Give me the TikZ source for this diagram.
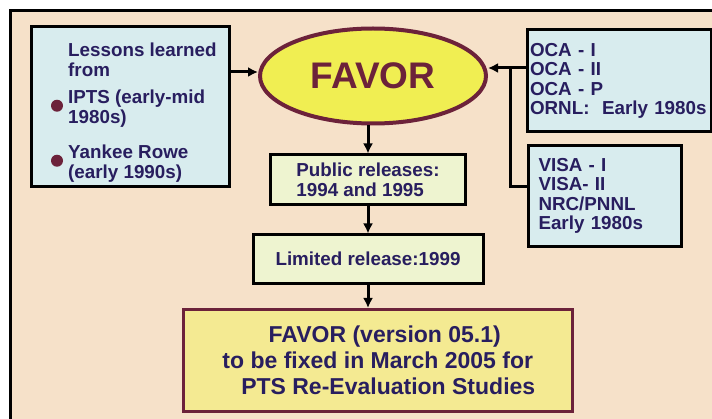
\documentclass[tikz,border=0pt]{standalone}
\usepackage{fontspec}
\setmainfont{Liberation Sans}
\usepackage{tikz}
\usetikzlibrary{shapes,arrows.meta}
\usetikzlibrary{positioning}
\definecolor{sand}{RGB}{246,225,201}
\definecolor{paleblue}{RGB}{216,236,238}
\definecolor{palegreen}{RGB}{238,244,208}
\definecolor{lemon}{RGB}{240,238,82}
\definecolor{straw}{RGB}{244,234,146}
\definecolor{wine}{RGB}{108,34,58}
\definecolor{inkblue}{RGB}{40,30,95}
\newcommand{\favorbody}{\bfseries\fontsize{18.8}{19.5}\selectfont}
\tikzset{source box/.style={draw=black, line width=3pt, fill=paleblue, rectangle, align=left, text=inkblue, font=\favorbody}}
\tikzset{release box/.style={draw=black, line width=3pt, fill=palegreen, rectangle, align=left, text=inkblue, font=\favorbody}}
\tikzset{plain text/.style={inner sep=0pt, align=left, text=inkblue, font=\favorbody}}
\tikzset{link/.style={line width=3pt, -{Latex[length=10pt,width=10pt]}}}

\begin{document}
\begin{tikzpicture}[x=1pt, y=-1pt]
\useasboundingbox (0,0) rectangle (712,419);
\draw[line width=3pt, fill=sand] (10.5,10.5) rectangle (716,423);

\node[source box, minimum width=198pt, minimum height=160pt] (lessonsbox) at (130.5,106.5) {};
\node[plain text, anchor=north west] (lessons) at (68,43) {Lessons learned\\from};
\node[plain text, anchor=north west] (ipts) at (68,90) {IPTS (early-mid\\1980s)};
\node[plain text, anchor=north west] (yankee) at (68,145) {Yankee Rowe\\(early 1990s)};
\fill[wine] ([xshift=-11pt,yshift=3pt]ipts.west) circle (6pt);
\fill[wine] ([xshift=-11pt,yshift=3pt]yankee.west) circle (6pt);

\node[draw=wine, line width=4pt, fill=lemon, ellipse, minimum width=226pt, minimum height=95pt, inner sep=0pt, text=wine, font=\bfseries\fontsize{37}{40}\selectfont] (favor) at (373,76) {FAVOR};

\node[source box, text width=178pt, inner xsep=3pt, minimum height=102pt] (oca) at (619,81) {OCA - I\\OCA - II\\OCA - P\\\mbox{ORNL:\ \ Early 1980s}};
\node[source box, text width=133pt, inner xsep=10pt, minimum height=101pt, below=10.5pt of oca.south west, anchor=north west, xshift=1.5pt] (visa) {VISA - I\\VISA- II\\NRC/PNNL\\Early 1980s};

\node[release box, minimum width=195pt, minimum height=50pt] (public) at (368,180) {Public releases:\\1994 and 1995};
\node[release box, minimum width=230pt, minimum height=48.5pt, below=27pt of public] (limited) {Limited release:1999};
\node[draw=wine, line width=3pt, fill=straw, rectangle, align=center, text=inkblue, font=\bfseries\fontsize{23}{26}\selectfont, minimum width=388.5pt, minimum height=101.5pt, below=23pt of limited, xshift=9.75pt] (final) {\hspace*{14pt}FAVOR (version 05.1)\\to be fixed in March 2005 for\hspace*{12pt}\\\hspace*{21pt}PTS Re-Evaluation Studies};

% connectors
\coordinate (inl) at ([yshift=4pt]favor.west);
\draw[link] (inl -| lessonsbox.east) -- (inl);
\coordinate (tap) at (510,68);
\draw[link] (tap -| oca.west) -- (tap -| favor.east);
\draw[line width=3pt] (tap) |- ([yshift=9.5pt]visa.west);
\draw[link] (favor.south -| public.north) -- (public.north);
\draw[link] (public.south -| limited.north) -- (limited.north);
\draw[link] (limited.south) -- (final.north -| limited.south);
\end{tikzpicture}
\end{document}
